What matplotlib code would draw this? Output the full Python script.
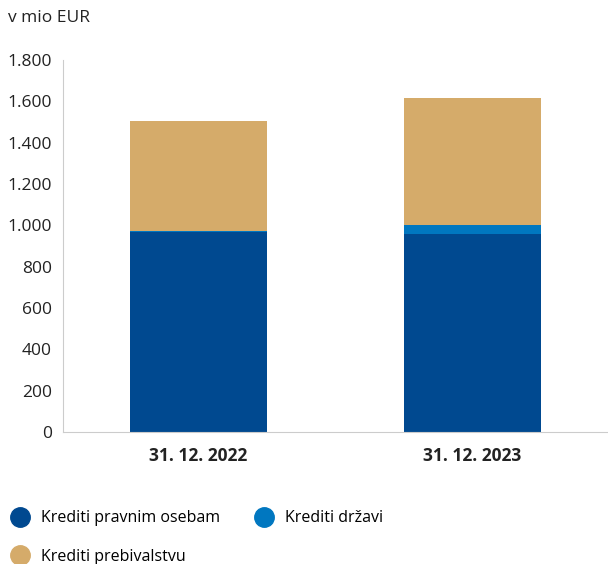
import numpy as np
import matplotlib
matplotlib.use("Agg")
import matplotlib.pyplot as plt
from matplotlib.lines import Line2D

plt.rcParams["font.family"] = ["Open Sans", "DejaVu Sans"]

# data
categories = ["31. 12. 2022", "31. 12. 2023"]
pravnim = [967, 958]
drzavi = [5, 43]
prebivalstvu = [533, 615]
series_names = ["Krediti pravnim osebam", "Krediti državi", "Krediti prebivalstvu"]
colors = ["#004990", "#0077C0", "#D5AB6A"]

fig = plt.figure(figsize=(6.08, 5.64), dpi=100)
ax = fig.add_axes([63/608, 1-432/564, 1-63/608, (432-60)/564])

x = np.arange(len(categories))
w = 0.5
ax.bar(x, pravnim, w, color=colors[0])
ax.bar(x, drzavi, w, bottom=pravnim, color=colors[1])
bottom2 = np.array(pravnim) + np.array(drzavi)
ax.bar(x, prebivalstvu, w, bottom=bottom2, color=colors[2])

ax.set_xlim(-0.495, 1.495)
ax.set_ylim(0, 1800)
ax.set_yticks(range(0, 1801, 200))
ax.set_yticklabels([f"{v:,}".replace(",", ".") for v in range(0, 1801, 200)])
ax.set_xticks(x)
ax.set_xticklabels(categories, fontweight="bold")
ax.tick_params(length=0, labelsize=12.5, colors="#222222")
ax.tick_params(axis="x", pad=11)
ax.tick_params(axis="y", pad=8)
for s in ["top", "right"]:
    ax.spines[s].set_visible(False)
for s in ["left", "bottom"]:
    ax.spines[s].set_color("#cccccc")

fig.text(8/608, 1-18/564, "v mio EUR", fontsize=12.5, va="center", color="#222222")

# legend: row-wise order (pravnim, drzavi / prebivalstvu)
order = [0, 2, 1]
handles = [Line2D([], [], marker="o", linestyle="", markersize=14, color=colors[i]) for i in order]
labels = [series_names[i] for i in order]
fig.legend(handles, labels, loc="upper left", bbox_to_anchor=(-0.012, 1-496/564),
           ncol=2, frameon=False, fontsize=11.5, handletextpad=0.5, columnspacing=2.0,
           labelspacing=1.4, handlelength=1.6)

plt.savefig("out.png")
